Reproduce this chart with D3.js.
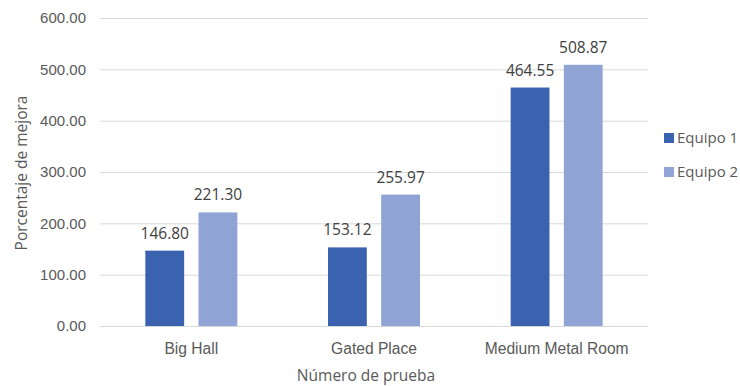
<!DOCTYPE html>
<html>
<head>
<meta charset="utf-8">
<script src="https://cdn.jsdelivr.net/npm/d3@7"></script>
<style>
  html, body { margin: 0; padding: 0; background: #ffffff; }
  svg { display: block; font-family: "Open Sans", "Noto Sans", sans-serif; }
</style>
</head>
<body>
<svg id="chart" width="740" height="386"></svg>
<script>
// Improvement percentage per test scenario, two teams
const categories = ["Big Hall", "Gated Place", "Medium Metal Room"];
const seriesNames = ["Equipo 1", "Equipo 2"];
const equipo1 = [146.80, 153.12, 464.55];
const equipo2 = [221.30, 255.97, 508.87];
const yTicks = [0, 100, 200, 300, 400, 500, 600];
const colors = ["#3b62ae", "#8fa4d5"];

const svg = d3.select("#chart");
const margin = { left: 100, right: 92, top: 18, bottom: 60 };
const width = 740, height = 386;
const plotW = width - margin.left - margin.right;
const plotH = height - margin.top - margin.bottom;

const rows = categories.map((c, i) => ({ cat: c, values: [equipo1[i], equipo2[i]] }));

const x = d3.scaleBand().domain(categories).range([margin.left, margin.left + plotW]);
const x1 = d3.scaleBand().domain(d3.range(seriesNames.length))
  .range([x.bandwidth() / 2 - 46, x.bandwidth() / 2 + 46]).paddingInner(0.27);
const y = d3.scaleLinear().domain([0, 600]).range([margin.top + plotH, margin.top]);

// Horizontal gridlines with tick labels
const yAxis = d3.axisLeft(y).tickValues(yTicks).tickFormat(d3.format(".2f"))
  .tickSize(-plotW).tickPadding(14);
const gy = svg.append("g").attr("transform", `translate(${margin.left},0)`).call(yAxis);
gy.select(".domain").remove();
gy.selectAll(".tick line").attr("stroke", "#d9d9d9").attr("stroke-width", 1);
gy.selectAll(".tick text").attr("fill", "#595959").style("font-size", "15px");

// Category axis
const xAxis = d3.axisBottom(x).tickSize(0).tickPadding(17);
const gx = svg.append("g").attr("transform", `translate(0,${margin.top + plotH})`).call(xAxis);
gx.select(".domain").remove();
gx.selectAll(".tick text").attr("fill", "#595959").style("font-size", "15.6px");

// Bars and value labels
const groups = svg.append("g").selectAll("g").data(rows).join("g")
  .attr("transform", d => `translate(${x(d.cat)},0)`);

groups.selectAll("rect").data(d => d.values).join("rect")
  .attr("x", (v, i) => x1(i))
  .attr("width", x1.bandwidth())
  .attr("y", v => y(v))
  .attr("height", v => y(0) - y(v))
  .attr("fill", (v, i) => colors[i]);

groups.selectAll("text").data(d => d.values).join("text")
  .attr("x", (v, i) => x1(i) + x1.bandwidth() / 2)
  .attr("y", v => y(v) - 12)
  .attr("text-anchor", "middle")
  .attr("fill", "#404040")
  .style("font-size", "15.5px")
  .text(v => v.toFixed(2));

// Axis titles
svg.append("text")
  .attr("transform", `translate(27,${margin.top + plotH / 2 + 1}) rotate(-90)`)
  .attr("text-anchor", "middle").attr("fill", "#595959").style("font-size", "15.5px")
  .text("Porcentaje de mejora");

svg.append("text")
  .attr("x", 366).attr("y", 381)
  .attr("text-anchor", "middle").attr("fill", "#595959").style("font-size", "15.5px")
  .text("Número de prueba");

// Legend
const legend = svg.append("g").attr("transform", "translate(664,138)");
seriesNames.forEach((name, i) => {
  const g = legend.append("g").attr("transform", `translate(0,${i * 34})`);
  g.append("rect").attr("x", 0).attr("y", -5).attr("width", 10).attr("height", 10).attr("fill", colors[i]);
  g.append("text").attr("x", 13).attr("y", 0).attr("dy", "0.35em")
    .attr("fill", "#595959").style("font-size", "15px").text(name);
});
</script>
</body>
</html>
